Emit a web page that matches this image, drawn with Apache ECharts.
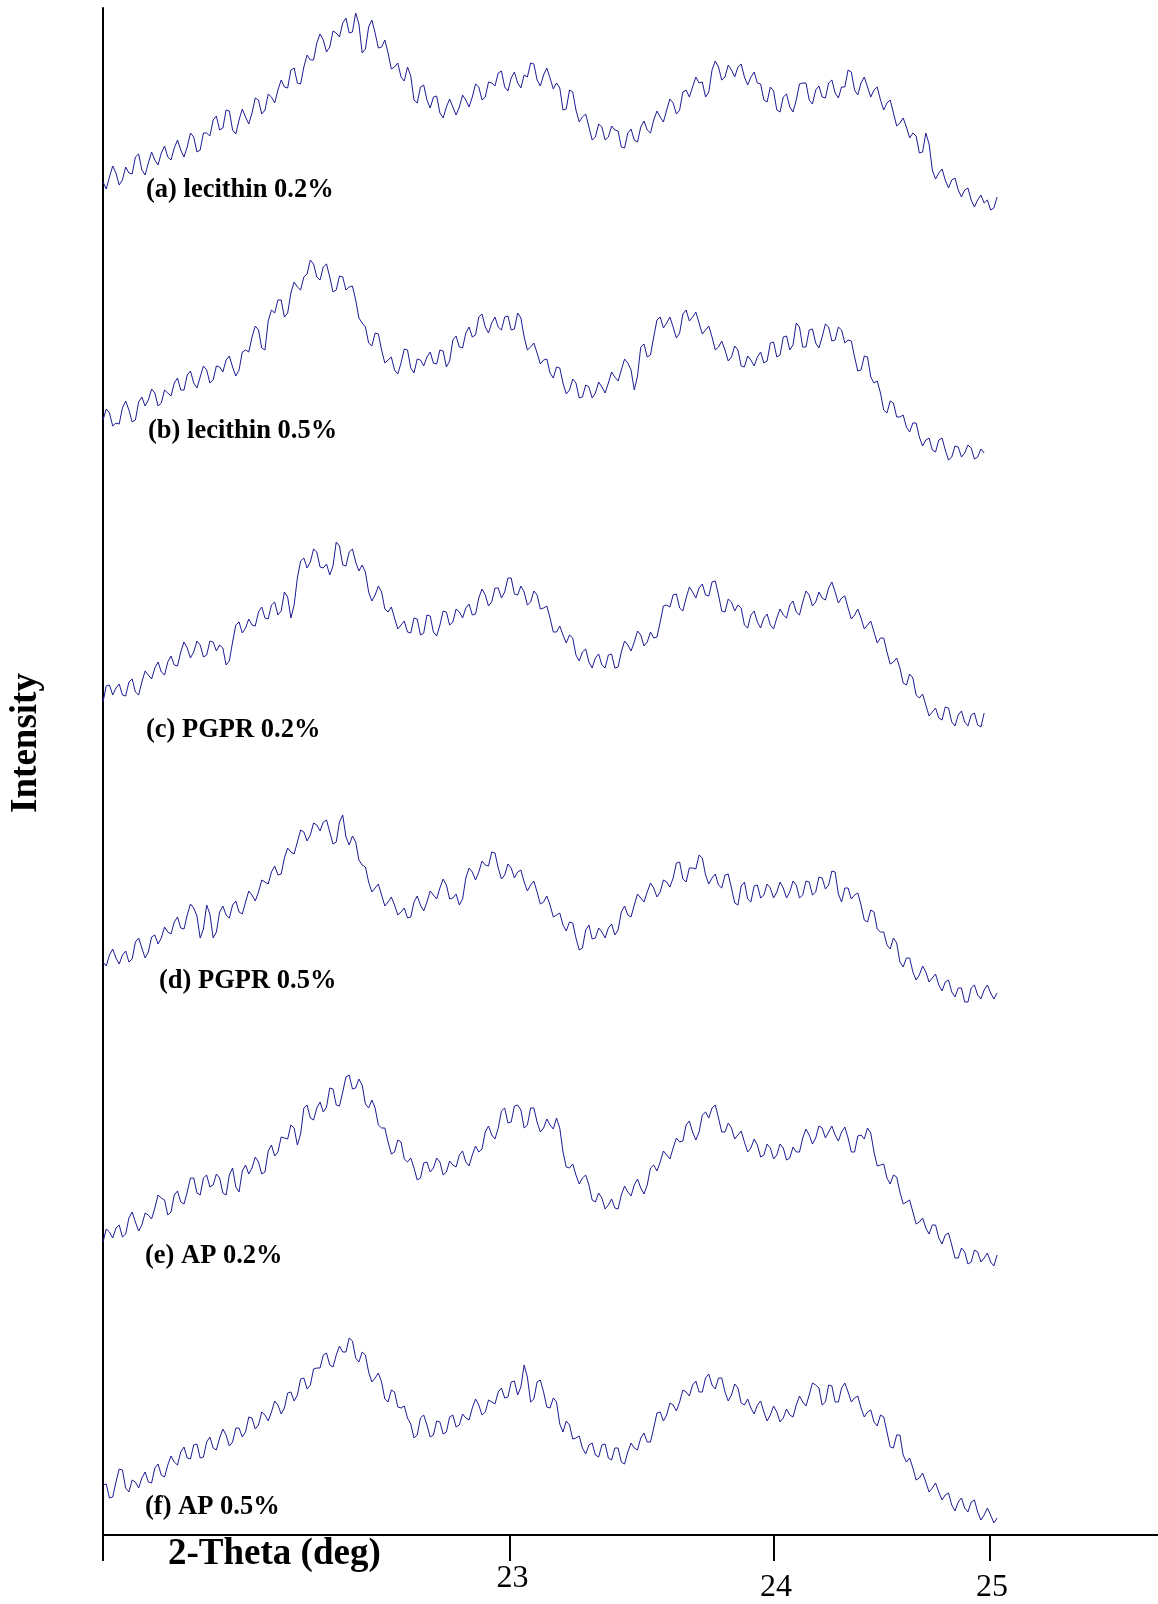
<!DOCTYPE html>
<html>
<head>
<meta charset="utf-8">
<script src="https://cdn.jsdelivr.net/npm/echarts@6/dist/echarts.min.js"></script>
<style>
  html, body { margin: 0; padding: 0; background: #ffffff; }
  #chart { width: 1158px; height: 1604px; }
</style>
</head>
<body>
<div id="chart"></div>
<script>
// ---- scan grid (2-theta, deg) ----
const TWO_THETA_START = 20.895;
const TWO_THETA_STEP = 0.015;
const X_MIN = 20.895;
const X_MAX = 25.78;

// ---- tick marks and labels as drawn in the figure ----
const TICK_POSITIONS = [22.78, 24, 25];
const TICK_LABELS = ['23', '24', '25'];
const TICK_LABEL_ROW = ['hi', 'lo', 'lo'];   // "23" sits a little higher in the figure

// ---- sample names ----
const SAMPLE_NAMES = ['(a) lecithin 0.2%', '(b) lecithin 0.5%', '(c) PGPR 0.2%',
                      '(d) PGPR 0.5%', '(e) AP 0.2%', '(f) AP 0.5%'];

// vertical offset of each pattern (stacked plot, a.u.)
const TRACE_OFFSETS = [1325, 1075, 800, 525, 260, 10];

// ---- intensities (a.u.) ----
const lecithin02 = [
  28,21,33,44,37,25,30,43,37,36, 53,56,40,35,47,58,50,45,57,64,
  53,50,62,70,60,53,63,77,73,58, 60,77,77,74,90,94,80,82,100,99,
  80,76,90,101,93,86,97,112,110,96, 100,116,113,107,120,130,123,122,140,142,
  127,126,143,155,150,150,167,176,170,158, 163,179,177,173,187,192,177,178,197,186,
  157,161,183,190,177,162,163,170,157,141, 143,147,133,129,143,134,110,107,123,125,
  110,102,113,114,97,92,103,111,103,95, 103,115,110,103,113,126,123,110,113,128,
  127,124,137,139,123,119,132,138,127,122, 135,133,147,146,130,124,135,142,132,121,
  127,122,100,101,120,118,100,88,93,96, 83,70,73,86,83,70,73,84,80,79,
  63,62,77,81,70,68,83,89,80,77, 90,99,93,88,100,111,107,96,100,118,
  120,113,123,133,127,128,113,118,140,149, 143,130,133,145,140,133,143,146,133,125,
  133,138,127,126,110,108,123,119,100,98, 113,116,103,98,110,126,127,127,110,106,
  120,124,113,112,127,130,117,112,123,123, 140,138,120,115,127,133,123,113,120,123,
  110,100,107,110,97,84,87,92,83,72, 77,74,57,58,77,66,40,31,37,41,
  30,22,30,32,20,13,20,22,10,3, 10,15,7,10,0,2,13
];
const lecithin05 = [
  40,51,47,34,37,36,52,59,50,38, 40,58,63,54,60,71,67,54,57,70,
  67,64,77,82,70,70,85,89,77,72, 83,94,90,77,80,94,93,88,100,104,
  93,84,90,108,110,108,123,134,130,112, 110,139,150,147,160,160,143,147,167,178,
  173,170,183,186,200,196,183,180,193,196, 183,168,170,184,183,170,173,174,160,142,
  137,133,117,114,127,126,110,97,100,103, 90,86,97,111,110,92,87,101,100,94,
  103,108,97,96,110,109,93,99,120,124, 113,112,127,133,123,125,143,146,133,127,
  137,143,133,130,143,144,130,131,147,142, 123,110,113,117,107,96,100,101,87,82,
  93,92,77,66,70,81,77,62,63,75, 73,62,67,78,73,67,77,88,83,79,
  90,101,97,90,70,84,113,116,103,105, 123,140,143,132,137,143,133,122,127,146,
  150,139,143,148,137,126,130,134,123,110, 113,119,110,99,103,114,110,94,93,104,
  100,94,103,108,97,99,117,118,103,105, 123,124,110,115,137,133,113,113,130,131,
  117,112,123,136,133,119,120,133,130,117, 120,119,103,89,90,104,103,83,77,79,
  67,50,47,59,57,43,43,45,33,28, 37,37,23,14,20,22,10,8,20,22,
  10,0,3,14,13,3,7,15,12,1, 3,11,7
];
const pgpr02 = [
  33,49,50,40,47,51,40,39,53,56, 43,40,53,64,60,56,67,73,63,60,
  73,79,70,69,83,93,87,77,83,94, 90,78,80,94,93,84,90,87,70,74,
  93,110,113,102,107,116,110,109,123,128, 117,116,130,133,120,124,143,138,117,130,
  157,174,177,167,173,186,183,168,167,171, 160,169,193,189,170,169,183,186,173,164,
  170,163,143,134,140,149,143,126,123,128, 117,106,110,114,103,102,117,116,100,102,
  120,119,103,99,110,124,123,110,113,126, 123,117,127,131,120,121,137,146,140,129,
  133,147,147,137,143,157,157,141,140,149, 143,130,133,144,140,126,127,129,117,103,
  103,109,100,92,100,97,80,74,83,86, 73,67,77,81,70,67,80,81,67,68,
  83,94,90,84,93,104,100,89,93,103, 97,98,113,129,130,128,140,141,127,124,
  137,148,143,137,147,151,140,139,153,154, 140,124,123,136,133,124,130,127,110,107,
  120,124,113,107,117,121,110,106,117,126, 120,117,130,134,123,120,133,144,140,129,
  133,143,137,135,147,153,143,132,137,139, 127,116,120,126,117,106,110,114,103,92,
  97,97,83,71,73,77,67,52,50,61, 57,40,37,41,30,19,23,27,17,15,
  28,27,13,9,20,24,13,9,20,22, 10,8,22
];
const pgpr05 = [
  48,44,55,61,52,46,55,59,48,51, 68,72,62,52,58,73,75,66,72,83,
  78,76,88,93,82,81,95,106,102,94, 72,81,105,96,72,78,98,104,95,92,
  105,109,98,96,108,119,115,109,118,130, 128,126,138,144,135,136,152,162,158,156,
  168,180,178,169,175,187,185,179,188,190, 178,166,168,188,195,173,165,174,168,150,
  145,143,128,118,122,126,115,104,108,113, 105,95,98,102,92,93,108,114,105,99,
  108,119,115,111,122,131,125,111,112,116, 105,111,132,142,138,130,138,149,145,144,
  158,157,142,131,135,146,142,132,138,140, 128,119,125,129,118,106,108,114,105,93,
  95,97,85,79,88,87,72,60,62,80, 85,71,72,82,78,72,82,86,75,80,
  98,104,95,93,105,116,112,108,118,127, 122,113,118,130,128,123,132,147,148,131,
  128,142,142,141,155,152,135,126,132,136, 125,122,135,136,122,107,105,124,128,111,
  108,124,125,112,115,126,122,112,118,128, 122,112,118,129,125,112,115,129,128,115,
  118,133,132,121,125,139,138,116,108,122, 122,111,115,117,105,90,88,100,98,81,
  78,78,65,61,72,67,48,43,52,52, 38,30,35,44,38,28,32,36,25,19,
  28,30,18,13,22,22,8,8,22,25, 15,11,20,25,17,11,17
];
const ap02 = [
  33,46,43,37,47,50,38,41,57,63, 53,44,50,62,60,56,67,80,77,75,
  60,63,80,84,73,71,83,97,97,82, 80,97,100,88,90,101,97,82,80,100,
  107,88,83,104,110,101,107,118,113,101, 103,124,130,119,123,138,137,136,150,147,
  130,141,167,170,157,155,167,173,163,168, 187,186,170,169,183,198,200,186,187,196,
  190,171,167,175,167,150,147,147,133,121, 123,135,133,116,113,117,107,95,97,112,
  113,103,107,117,113,100,103,114,110,108, 120,124,113,109,120,129,123,126,143,149,
  140,136,147,164,167,152,153,169,170,165, 147,150,167,167,153,143,147,156,150,146,
  157,147,123,108,107,111,100,91,97,100, 90,75,73,82,77,66,70,76,67,66,
  80,89,83,79,90,96,87,81,90,107, 110,104,113,124,120,116,127,137,133,134,
  150,154,143,135,143,160,163,157,167,170, 157,143,143,152,147,136,140,144,133,123,
  127,136,130,118,120,131,127,116,120,131, 127,115,117,128,123,123,137,146,140,131,
  137,149,147,137,143,149,140,134,143,148, 137,123,123,139,140,136,147,142,123,109,
  110,111,97,91,100,98,83,71,73,75, 63,51,53,57,47,41,50,50,37,31,
  40,42,30,17,17,27,23,11,13,25, 23,13,17,22,13,9,20
];
const ap05 = [
  40,41,27,28,43,56,55,37,33,45, 43,37,47,53,43,42,57,61,50,48,
  60,69,63,60,73,78,67,66,80,81, 67,68,83,88,77,75,87,96,90,79,
  83,97,97,88,93,108,107,96,100,113, 110,104,113,124,120,111,117,132,133,124,
  130,146,147,136,140,156,157,157,170,172, 160,158,170,179,173,173,187,184,167,163,
  173,170,153,143,147,152,143,126,123,135, 133,118,117,119,107,101,87,90,107,110,
  100,88,90,104,103,91,93,108,110,98, 100,111,107,105,117,126,120,110,113,125,
  123,121,133,137,127,128,143,144,130,138, 160,148,123,126,143,145,133,118,117,127,
  123,101,93,104,100,86,87,89,77,71, 80,82,70,68,80,81,67,65,77,77,
  63,61,73,82,77,75,87,92,83,83, 97,112,113,104,110,122,120,114,123,135,
  133,129,140,144,133,133,147,151,140,136, 147,147,133,124,130,141,137,122,120,126,
  117,111,120,124,113,104,110,119,113,103, 107,116,110,108,120,129,123,119,130,142,
  140,137,120,123,140,139,123,123,137,142, 133,123,127,129,117,108,113,115,103,99,
  110,108,93,78,77,90,90,70,63,67, 57,45,47,52,43,33,37,42,33,25,
  30,32,20,14,23,27,17,13,23,25, 13,5,10,17,10,2,7
];

const TRACES = [lecithin02, lecithin05, pgpr02, pgpr05, ap02, ap05];

// ---- presentation ----
const LINE_COLOR = '#1c1c94';
const SERIF = '"Liberation Serif", "Times New Roman", Times, serif';
const LABEL_POS = [[146, 190], [148, 431], [146, 730], [159, 981], [145, 1256], [145, 1507]];

const series = TRACES.map((vals, k) => ({
  name: SAMPLE_NAMES[k],
  type: 'line',
  showSymbol: false,
  symbol: 'none',
  silent: true,
  lineStyle: { color: LINE_COLOR, width: 1 },
  data: vals.map((v, i) => [TWO_THETA_START + i * TWO_THETA_STEP, v + TRACE_OFFSETS[k]])
}));

const graphics = SAMPLE_NAMES.map((name, k) => ({
  type: 'text',
  x: LABEL_POS[k][0],
  y: LABEL_POS[k][1],
  style: {
    text: name,
    font: 'bold 26.5px ' + SERIF,
    fill: '#000',
    align: 'left', textAlign: 'left',
    verticalAlign: 'middle', textVerticalAlign: 'middle'
  }
}));
graphics.push({
  type: 'text', x: 26, y: 743, rotation: Math.PI / 2,
  style: {
    text: 'Intensity', font: 'bold 37px ' + SERIF, fill: '#000',
    align: 'center', textAlign: 'center',
    verticalAlign: 'middle', textVerticalAlign: 'middle'
  }
});
graphics.push({
  type: 'text', x: 168, y: 1554,
  style: {
    text: '2-Theta (deg)', font: 'bold 37px ' + SERIF, fill: '#000',
    align: 'left', textAlign: 'left',
    verticalAlign: 'middle', textVerticalAlign: 'middle'
  }
});

function nearestTick(v) {
  let best = 0;
  TICK_POSITIONS.forEach((p, i) => {
    if (Math.abs(p - v) < Math.abs(TICK_POSITIONS[best] - v)) best = i;
  });
  return best;
}

const chart = echarts.init(document.getElementById('chart'), null, { renderer: 'canvas' });
chart.setOption({
  animation: false,
  backgroundColor: '#ffffff',
  grid: { left: 103, right: 0, top: 8, bottom: 69, containLabel: false },
  xAxis: {
    type: 'value',
    min: X_MIN,
    max: X_MAX,
    axisLine: { show: true, onZero: false, lineStyle: { color: '#000', width: 2 } },
    axisTick: {
      show: true,
      customValues: [X_MIN].concat(TICK_POSITIONS),
      length: 26,
      inside: false,
      lineStyle: { color: '#000', width: 2 }
    },
    axisLabel: {
      show: true,
      customValues: TICK_POSITIONS,
      margin: 28,
      fontSize: 32,
      fontFamily: SERIF,
      color: '#000',
      formatter: function (v) {
        const i = nearestTick(v);
        return '{' + TICK_LABEL_ROW[i] + '|' + TICK_LABELS[i] + '}';
      },
      rich: {
        hi: { fontSize: 32, fontFamily: SERIF, color: '#000', padding: [0, 0, 0, 5] },
        lo: { fontSize: 32, fontFamily: SERIF, color: '#000', padding: [9, 0, 0, 5] }
      }
    },
    splitLine: { show: false }
  },
  yAxis: {
    type: 'value',
    min: 0,
    max: 1527,
    axisLine: { show: true, lineStyle: { color: '#000', width: 2 } },
    axisTick: { show: false },
    axisLabel: { show: false },
    splitLine: { show: false }
  },
  series: series,
  graphic: graphics
});
</script>
</body>
</html>
